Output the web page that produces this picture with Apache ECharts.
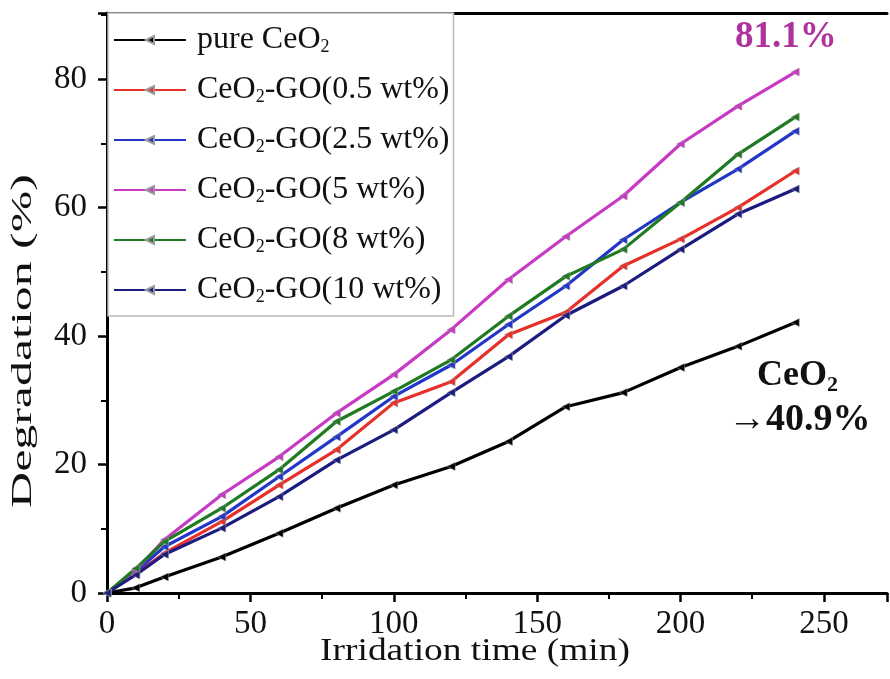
<!DOCTYPE html>
<html><head><meta charset="utf-8">
<script src="https://cdn.jsdelivr.net/npm/echarts@6/dist/echarts.min.js"></script>
<style>html,body{margin:0;padding:0;background:#fff}#c{width:890px;height:679px}</style>
</head><body><div id="c"></div>
<script>
const times = [0, 10, 20, 40, 60, 80, 100, 120, 140, 160, 180, 200, 220, 240];
const seriesNames = ['pure CeO2', 'CeO2-GO(0.5 wt%)', 'CeO2-GO(2.5 wt%)', 'CeO2-GO(5 wt%)', 'CeO2-GO(8 wt%)', 'CeO2-GO(10 wt%)'];
const legendLabels = ['pure CeO{s|2}', 'CeO{s|2}-GO(0.5 wt%)', 'CeO{s|2}-GO(2.5 wt%)', 'CeO{s|2}-GO(5 wt%)', 'CeO{s|2}-GO(8 wt%)', 'CeO{s|2}-GO(10 wt%)'];
const pureCeO2 = [0, 0.8, 2.5, 5.6, 9.3, 13.2, 16.8, 19.7, 23.6, 29.0, 31.2, 35.1, 38.4, 42.1];
const go05 = [0, 3.0, 6.2, 11.1, 16.8, 22.3, 29.6, 32.9, 40.2, 43.7, 50.9, 55.1, 60.0, 65.7];
const go25 = [0, 3.3, 7.2, 11.9, 18.1, 24.3, 30.6, 35.5, 41.8, 47.8, 55.0, 60.8, 66.0, 71.9];
const go5 = [0, 3.5, 8.3, 15.3, 21.2, 28.0, 34.0, 41.0, 48.8, 55.5, 61.8, 69.9, 75.8, 81.1];
const go8 = [0, 3.8, 8.0, 13.2, 19.2, 26.7, 31.4, 36.3, 43.1, 49.3, 53.5, 60.8, 68.3, 74.1];
const go10 = [0, 2.8, 6.0, 10.1, 15.0, 20.7, 25.4, 31.2, 36.8, 43.2, 47.8, 53.5, 59.0, 62.9];
const colors = ['#000000', '#e8302a', '#2236c8', '#c839c4', '#1f7a22', '#1c1c80'];
const xTicks = [0, 50, 100, 150, 200, 250];
const yTicks = [0, 20, 40, 60, 80];
const xTitle = 'Irridation time (min)';
const yTitle = 'Degradation (%)';

const allData = [pureCeO2, go05, go25, go5, go8, go10];
const font = '"Liberation Serif", "Times New Roman", serif';
const chart = echarts.init(document.getElementById('c'));
chart.setOption({
  animation: false,
  backgroundColor: '#fff',
  grid: { left: 107, top: 13, right: 0, bottom: 86, containLabel: false },
  legend: {
    orient: 'vertical', left: 108, top: 13,
    padding: [11, 4, 10, 5], itemGap: 18,
    itemWidth: 72, itemHeight: 10,
    backgroundColor: '#fff', borderColor: '#b8b8b8', borderWidth: 1.5,
    data: seriesNames,
    formatter: function (n) { return legendLabels[seriesNames.indexOf(n)]; },
    textStyle: { fontFamily: font, fontSize: 32, color: '#111', lineHeight: 32, padding: [0, 0, 0, 6],
      rich: { s: { fontFamily: font, fontSize: 18, color: '#111', lineHeight: 10, verticalAlign: 'bottom' } } }
  },
  xAxis: [{
    type: 'value', min: 0, max: 272, interval: 50,
    axisLine: { lineStyle: { color: '#000', width: 3 } },
    axisTick: { show: true, length: 9, lineStyle: { width: 2.5, color: '#000' } },
    minorTick: { show: true, splitNumber: 2, length: 6, lineStyle: { width: 2, color: '#000' } },
    axisLabel: { fontFamily: font, fontSize: 33, color: '#111', margin: 15,
      formatter: v => xTicks.includes(v) ? String(v) : '' },
    splitLine: { show: false }
  }, {
    type: 'value', position: 'top', min: 0, max: 272,
    axisLine: { show: true, lineStyle: { color: '#000', width: 3 } },
    axisTick: { show: false }, axisLabel: { show: false }, splitLine: { show: false }
  }],
  yAxis: {
    type: 'value', min: 0, max: 90.3, interval: 20,
    axisLine: { show: true, lineStyle: { color: '#000', width: 3 } },
    axisTick: { show: true, length: 9, lineStyle: { width: 2.5, color: '#000' } },
    minorTick: { show: true, splitNumber: 2, length: 6, lineStyle: { width: 2, color: '#000' } },
    axisLabel: { fontFamily: font, fontSize: 33, color: '#111', margin: 20,
      formatter: v => yTicks.includes(v) ? String(v) : '' },
    splitLine: { show: false }
  },
  series: seriesNames.map((n, i) => ({
    name: n, type: 'line', xAxisIndex: 0,
    data: times.map((t, j) => [t, allData[i][j]]),
    symbol: 'triangle', symbolSize: 8, symbolRotate: 90,
    lineStyle: { color: colors[i], width: 3.2 },
    itemStyle: { color: colors[i], borderColor: '#999', borderWidth: 0.5 },
    z: 3
  })),
  graphic: [
    { type: 'text', x: 475, y: 652, scaleX: 1.17, scaleY: 1,
      style: { text: xTitle, fontFamily: font, fontSize: 32, fill: '#111', textAlign: 'center', textVerticalAlign: 'middle' } },
    { type: 'text', x: 23, y: 341, rotation: Math.PI / 2, scaleX: 1.72, scaleY: 1,
      style: { text: yTitle, fontFamily: font, fontSize: 29, fill: '#111', textAlign: 'center', textVerticalAlign: 'middle' } },
    { type: 'text', left: 735, top: 19, style: { text: '81.1%', fontFamily: font, fontSize: 37, fontWeight: 'bold', fill: '#b0329f' } },
    { type: 'text', left: 757, top: 358, style: { text: 'CeO{s|2}', rich: { s: { fontFamily: font, fontSize: 22, fontWeight: 'bold', fill: '#111', padding: [18, 0, 0, 0] } }, fontFamily: font, fontSize: 36, fontWeight: 'bold', fill: '#111' } },
    { type: 'text', left: 728, top: 401, style: { text: '\u219240.9%', fontFamily: font, fontSize: 38, fontWeight: 'bold', fill: '#111' } }
  ]
});
</script></body></html>
